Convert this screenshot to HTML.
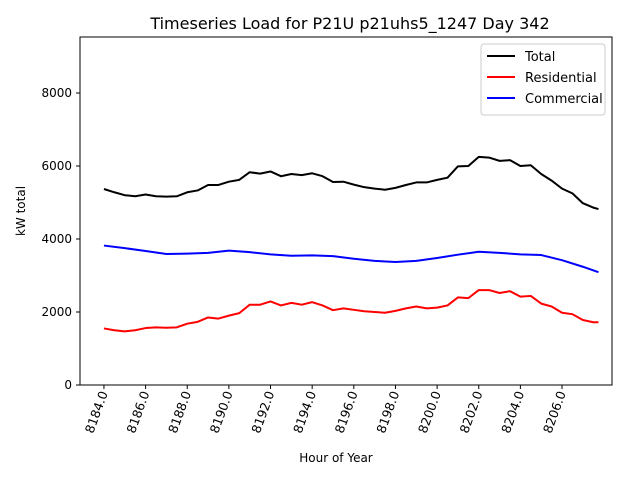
<!DOCTYPE html>
<html><head><meta charset="utf-8"><style>
body{margin:0;background:#fff}
svg{font-family:"DejaVu Sans","Liberation Sans",sans-serif}
</style></head><body>
<svg id="chart" width="640" height="480" xmlns="http://www.w3.org/2000/svg">
<rect width="640" height="480" fill="#fff"/>
<text x="350" y="29" font-size="16" text-anchor="middle">Timeseries Load for P21U p21uhs5_1247  Day 342</text>
<text x="336" y="462" font-size="12" text-anchor="middle">Hour of Year</text>
<text transform="translate(25,211) rotate(-90)" font-size="12" text-anchor="middle">kW total</text>
<g id="plot"></g>
<rect x="80" y="37" width="532" height="348" fill="none" stroke="#000" stroke-width="1"/>
<g>
<rect x="481" y="44" width="124" height="71" fill="#fff" stroke="#ccc" rx="3"/>
<line x1="487" y1="56" x2="515" y2="56" stroke="#000" stroke-width="2"/><text x="525" y="61" font-size="13">Total</text>
<line x1="487" y1="77" x2="515" y2="77" stroke="#f00" stroke-width="2"/><text x="525" y="82" font-size="13">Residential</text>
<line x1="487" y1="98" x2="515" y2="98" stroke="#00f" stroke-width="2"/><text x="525" y="103" font-size="13">Commercial</text>
</g>
</svg>
<script>
const hours=[8184,8184.5,8185,8185.5,8186,8186.5,8187,8187.5,8188,8188.5,8189,8189.5,8190,8190.5,8191,8191.5,8192,8192.5,8193,8193.5,8194,8194.5,8195,8195.5,8196,8196.5,8197,8197.5,8198,8198.5,8199,8199.5,8200,8200.5,8201,8201.5,8202,8202.5,8203,8203.5,8204,8204.5,8205,8205.5,8206,8206.5,8207,8207.5,8207.75];
const residential=[1550,1500,1470,1500,1560,1580,1570,1580,1680,1730,1850,1820,1900,1970,2200,2200,2290,2180,2250,2200,2270,2180,2050,2100,2060,2020,2000,1980,2030,2100,2150,2100,2120,2180,2400,2380,2600,2600,2520,2570,2420,2440,2230,2150,1980,1940,1780,1720,1720];
const total=[5370,5280,5200,5170,5220,5170,5160,5170,5280,5330,5480,5480,5570,5620,5830,5790,5850,5720,5780,5750,5800,5720,5560,5570,5490,5420,5380,5350,5400,5480,5550,5550,5620,5680,5990,6000,6250,6230,6140,6160,6000,6020,5780,5600,5380,5250,4980,4860,4820];
const comHours=[8184,8185,8186,8187,8188,8189,8190,8191,8192,8193,8194,8195,8196,8197,8198,8199,8200,8201,8202,8203,8204,8205,8206,8207,8207.75];
const commercial=[3820,3750,3670,3590,3600,3620,3680,3640,3580,3540,3550,3530,3460,3400,3370,3400,3480,3570,3650,3620,3580,3560,3420,3240,3090];
const xTicks=[8184,8186,8188,8190,8192,8194,8196,8198,8200,8202,8204,8206];
const yTicks=[0,2000,4000,6000,8000];
const xMin=8182.85,xMax=8208.4,yMax=9534;
const X=v=>80+(v-xMin)/(xMax-xMin)*532;
const Y=v=>385-v/yMax*348;
const NS="http://www.w3.org/2000/svg";
const g=document.getElementById('plot');
function mk(t,a){const e=document.createElementNS(NS,t);for(const k in a)e.setAttribute(k,a[k]);g.appendChild(e);return e;}
yTicks.forEach(v=>{
 const l=mk('line',{x1:76,x2:80,y1:Y(v),y2:Y(v),stroke:'#000'});
 
 
 const t=mk('text',{x:72,y:Y(v)+4,'font-size':12,'text-anchor':'end'});t.textContent=v;
 
 
});
xTicks.forEach(v=>{
 const l=mk('line',{x1:X(v),x2:X(v),y1:385,y2:389,stroke:'#000'});
 
 
 const t=mk('text',{transform:`translate(${X(v)+4},393) rotate(-70)`,'font-size':12.5,'text-anchor':'end'});t.textContent=v.toFixed(1);
 
 
});
function line(xs,ys,c,name){
 const p=mk('polyline',{points:xs.map((x,i)=>X(x)+','+Y(ys[i])).join(' '),fill:'none',stroke:c,'stroke-width':2,'stroke-linejoin':'round'});
 
 
}
line(hours,total,'#000','total-line');
line(hours,residential,'#f00','residential-line');
line(comHours,commercial,'#00f','commercial-line');
</script>
</body></html>
